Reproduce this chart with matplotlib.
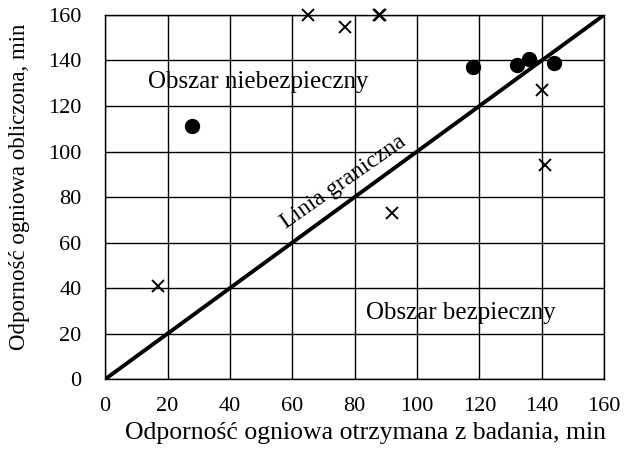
import numpy as np
import matplotlib.pyplot as plt

plt.rcParams['font.family'] = ['Liberation Serif', 'DejaVu Serif']

# punkty z badań: x = otrzymana z badania, y = obliczona
krzyzyki_x = [17, 65, 77, 87.7, 88.1, 92, 140, 141]
krzyzyki_y = [41, 160, 154.5, 160, 160, 73, 127, 94]
kropki_x = [28, 118, 132, 136, 144]
kropki_y = [111, 137, 138, 140.5, 139]
linia = [0, 160]
ticks = np.arange(0, 161, 20)

fig = plt.figure(figsize=(6.26, 4.53), dpi=100)
ax = fig.add_axes([0.168, 0.163, 0.797, 0.804])

ax.plot(linia, linia, color="black", lw=2.8, solid_capstyle="butt", zorder=3)
ax.plot(krzyzyki_x, krzyzyki_y, ls="none", marker="x", ms=8, mew=1.4,
        color="black", clip_on=False, zorder=4)
ax.plot(kropki_x, kropki_y, ls="none", marker="o", ms=10,
        color="black", clip_on=False, zorder=4)

ax.text(49, 130.5, "Obszar niebezpieczny", fontsize=18, ha="center", va="center")
ax.text(114, 29, "Obszar bezpieczny", fontsize=18, ha="center", va="center")
ax.text(76.5, 86.5, "Linia graniczna", fontsize=17, ha="center", va="center",
        rotation=35, rotation_mode="anchor")

ax.set_xlim(0, 160)
ax.set_ylim(0, 160)
ax.set_xticks(ticks)
ax.set_yticks(ticks)
ax.grid(True, color="black", lw=1.0)
ax.set_axisbelow(True)
ax.tick_params(length=0, labelsize=16)
ax.tick_params(axis="x", pad=13)
ax.tick_params(axis="y", pad=17)
for s in ax.spines.values():
    s.set_linewidth(1.0)

ax.set_xlabel("Odporność ogniowa otrzymana z badania, min", fontsize=18.5)
ax.set_ylabel("Odporność ogniowa obliczona, min", fontsize=16.5)
ax.xaxis.set_label_coords(0.521, -0.118)
ax.yaxis.set_label_coords(-0.150, 0.527)

fig.savefig("out.png", dpi=100)
